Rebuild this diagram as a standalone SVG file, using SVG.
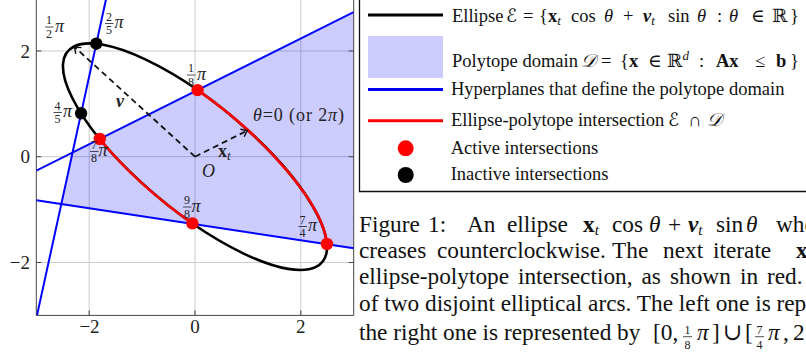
<svg xmlns="http://www.w3.org/2000/svg" width="806" height="358" viewBox="0 0 806 358">
<style>
text{font-family:"Liberation Serif","DejaVu Serif","DejaVu Sans",serif;fill:#111}
.tick{font-size:19px;fill:#222}
.lab{font-size:18px;fill:#222}
.num{font-size:12px;fill:#222;text-anchor:middle}
.leg{font-size:18.5px}
.cap{font-size:23.3px}
.i{font-style:italic}
.b{font-weight:bold}
.bi{font-weight:bold;font-style:italic}
.grid{stroke:#cbcbcb;stroke-width:1;fill:none}
.hp{stroke:#0000ff;stroke-width:2;fill:none}
.ell{fill:none;stroke:#000;stroke-width:2.6}
.red{fill:none;stroke:#ff0000;stroke-width:2.6}
.dash{stroke:#111;stroke-width:1.8;stroke-dasharray:6 4;fill:none}
.fb{stroke:#222;stroke-width:0.8}
</style>
<defs>
<clipPath id="plotclip"><rect x="36.3" y="-2" width="317.4" height="317.4"/></clipPath>
<marker id="arr" markerUnits="userSpaceOnUse" markerWidth="14" markerHeight="14" viewBox="-7 -7 14 14" refX="0" refY="0" orient="auto">
<path d="M-5.5,-4.2 Q-1.6,-1.2 0,0 Q-1.6,1.2 -5.5,4.2" fill="none" stroke="#111" stroke-width="1.4"/>
</marker>
</defs>
<rect width="806" height="358" fill="#fff"/>
<g id="plot">
<g id="grid">
<path class="grid" d="M89.2,-2V315.4M195,-2V315.4M300.8,-2V315.4M36.3,51H353.7M36.3,156.7H353.7M36.3,262.5H353.7"/>
</g>
<g id="polytope" clip-path="url(#plotclip)">
<polygon points="72.5,152.6 353.7,12.1 353.7,248.2 61.27,204.07" fill="#0000ff" fill-opacity="0.2"/>
</g>
<g id="axes">
<path d="M36.3,-2V315.4H353.7V-2" fill="none" stroke="#444" stroke-width="1"/>
<path d="M89.2,315.4v-5M195,315.4v-5M300.8,315.4v-5M36.3,51h5M36.3,156.7h5M36.3,262.5h5M353.7,51h-5M353.7,156.7h-5M353.7,262.5h-5" stroke="#444" stroke-width="1"/>
<text class="tick" x="30" y="57.5" text-anchor="end">2</text>
<text class="tick" x="30" y="163.2" text-anchor="end">0</text>
<text class="tick" x="30" y="269" text-anchor="end">−2</text>
<text class="tick" x="89.5" y="333" text-anchor="middle">−2</text>
<text class="tick" x="195" y="333" text-anchor="middle">0</text>
<text class="tick" x="300.8" y="333" text-anchor="middle">2</text>
</g>
<g id="hyperplanes" clip-path="url(#plotclip)">
<line class="hp" x1="36.3" y1="170.7" x2="353.7" y2="12.1"/>
<line class="hp" x1="36.3" y1="200.3" x2="353.7" y2="248.2"/>
<line class="hp" x1="37.0" y1="315.4" x2="106.3" y2="-2"/>
</g>
<g id="ellipse" transform="matrix(52.9 -26.45 -121 -110.2 195 156.7)">
<circle r="1" class="ell" vector-effect="non-scaling-stroke"/>
<path class="red" vector-effect="non-scaling-stroke" d="M-0.92388,0.382683A1,1 0 0 1 -0.92388,-0.382683"/>
<path class="red" vector-effect="non-scaling-stroke" d="M0.4402,-0.8979A1,1 0 0 1 0.92388,0.382683"/>
</g>
<g id="connectors">
<path class="dash" d="M195,156.7L247.2,130.6" marker-end="url(#arr)"/>
<path class="dash" d="M195,156.7L74.5,47" marker-end="url(#arr)"/>
</g>
<g id="points">
<circle cx="197.6" cy="90.1" r="6.2" fill="#ff0000"/>
<circle cx="99.8" cy="139" r="6.2" fill="#ff0000"/>
<circle cx="192.4" cy="223.4" r="6.2" fill="#ff0000"/>
<circle cx="326.9" cy="244" r="6.2" fill="#ff0000"/>
<circle cx="96.3" cy="43.7" r="6.2" fill="#000"/>
<circle cx="81.1" cy="113.3" r="6.2" fill="#000"/>
</g>
<g id="labels">
<g id="l-half"><text class="num" x="49" y="24">1</text><line class="fb" x1="45" y1="27" x2="53.5" y2="27"/><text class="num" x="49" y="37.5">2</text><text class="lab i" x="55" y="31.5">π</text></g>
<g id="l-25"><text class="num" x="109" y="20.5">2</text><line class="fb" x1="105" y1="23.5" x2="113.5" y2="23.5"/><text class="num" x="109" y="34">5</text><text class="lab i" x="114.5" y="28">π</text></g>
<g id="l-18"><text class="num" x="191" y="72">1</text><line class="fb" x1="187" y1="75" x2="195.5" y2="75"/><text class="num" x="191" y="85.5">8</text><text class="lab i" x="197" y="79.5">π</text></g>
<g id="l-45"><text class="num" x="57.5" y="109.5">4</text><line class="fb" x1="53.5" y1="112.5" x2="62" y2="112.5"/><text class="num" x="57.5" y="123">5</text><text class="lab i" x="63" y="117">π</text></g>
<g id="l-78"><text class="num" x="94" y="148.5">7</text><line class="fb" x1="90" y1="151.5" x2="98.5" y2="151.5"/><text class="num" x="94" y="162">8</text><text class="lab i" x="98.5" y="156">π</text></g>
<g id="l-98"><text class="num" x="187" y="204">9</text><line class="fb" x1="183" y1="207" x2="191.5" y2="207"/><text class="num" x="187" y="217.5">8</text><text class="lab i" x="191.5" y="211.5">π</text></g>
<g id="l-74"><text class="num" x="302.5" y="223.5">7</text><line class="fb" x1="298.5" y1="226.5" x2="307" y2="226.5"/><text class="num" x="302.5" y="237">4</text><text class="lab i" x="308" y="231">π</text></g>
<text class="lab bi" x="116" y="107">ν</text>
<text class="lab" x="218" y="157"><tspan class="b">x</tspan><tspan class="i" font-size="13" dy="3">t</tspan></text>
<text class="lab i" x="202" y="177">O</text>
<text class="lab" x="253" y="120.5" textLength="91" lengthAdjust="spacing"><tspan class="i">θ</tspan>=0 (or 2<tspan class="i">π</tspan>)</text>
</g>
</g>
<g id="legend">
<path d="M359.5,-2V191.5H810" fill="none" stroke="#111" stroke-width="1.3"/>
<g id="leg-ellipse"><line x1="368" y1="15" x2="443" y2="15" stroke="#000" stroke-width="3"/>
<text class="leg" y="21.5"><tspan x="452">Ellipse</tspan><tspan x="506" class="i">ℰ</tspan><tspan x="523">=</tspan><tspan x="539">{</tspan><tspan x="548" class="b">x</tspan><tspan class="i" font-size="13" dy="3">t</tspan><tspan x="571" dy="-3">cos</tspan><tspan x="604" class="i">θ</tspan><tspan x="623">+</tspan><tspan x="643" class="bi">ν</tspan><tspan class="i" font-size="13" dy="3">t</tspan><tspan x="668" dy="-3">sin</tspan><tspan x="697" class="i">θ</tspan><tspan x="717">:</tspan><tspan x="729" class="i">θ</tspan><tspan x="751">∈</tspan><tspan x="772">ℝ</tspan><tspan x="790">}</tspan></text></g>
<g id="leg-domain"><rect x="368" y="36" width="75" height="42" fill="#ccccff"/>
<text class="leg" y="66.5"><tspan x="452">Polytope domain</tspan><tspan x="581" class="i">𝒟</tspan><tspan x="601">=</tspan><tspan x="620">{</tspan><tspan x="629" class="b">x</tspan><tspan x="648">∈</tspan><tspan x="667">ℝ</tspan><tspan class="i" font-size="13" dy="-7">d</tspan><tspan x="699" dy="7">:</tspan><tspan x="716" class="b">Ax</tspan><tspan x="755">≤</tspan><tspan x="776" class="b">b</tspan><tspan x="790">}</tspan></text></g>
<g id="leg-hyper"><line x1="368" y1="89.5" x2="443" y2="89.5" stroke="#0000ff" stroke-width="3"/>
<text class="leg" x="451" y="94.5">Hyperplanes that define the polytope domain</text></g>
<g id="leg-inter"><line x1="368" y1="120.7" x2="443" y2="120.7" stroke="#ff0000" stroke-width="3"/>
<text class="leg" y="126"><tspan x="451">Ellipse-polytope intersection</tspan><tspan x="668" class="i">ℰ</tspan><tspan x="688">∩</tspan><tspan x="707" class="i">𝒟</tspan></text></g>
<g id="leg-active"><circle cx="405.7" cy="148.3" r="8" fill="#ff0000"/>
<text class="leg" x="450.7" y="154.3">Active intersections</text></g>
<g id="leg-inactive"><circle cx="405.7" cy="175" r="8" fill="#000"/>
<text class="leg" x="450.7" y="180.3">Inactive intersections</text></g>
</g>
<g id="caption">
<text class="cap" y="232.3"><tspan x="359">Figure</tspan><tspan x="428">1:</tspan><tspan x="467">An</tspan><tspan x="507">ellipse</tspan><tspan x="583" class="b">x</tspan><tspan class="i" font-size="15" dy="3">t</tspan><tspan x="612" dy="-3">cos</tspan><tspan x="649" class="i">θ</tspan><tspan x="668">+</tspan><tspan x="688" class="bi">ν</tspan><tspan class="i" font-size="15" dy="3">t</tspan><tspan x="716" dy="-3">sin</tspan><tspan x="746" class="i">θ</tspan><tspan x="776">who</tspan></text>
<text class="cap" y="258"><tspan x="359">creases</tspan><tspan x="437">counterclockwise.</tspan><tspan x="612">The</tspan><tspan x="663">next</tspan><tspan x="713">iterate</tspan><tspan x="796" class="b">x</tspan></text>
<text class="cap" y="283.5"><tspan x="359">ellipse-polytope</tspan><tspan x="518">intersection,</tspan><tspan x="641.5">as</tspan><tspan x="670">shown</tspan><tspan x="740">in</tspan><tspan x="767">red.</tspan></text>
<text class="cap" x="359" y="310.5">of two disjoint elliptical arcs. The left one is rep</text>
<text class="cap" y="340"><tspan x="359">the right one is represented by</tspan><tspan x="653">[0,</tspan><tspan x="697" class="i">π</tspan><tspan x="712">]</tspan><tspan x="723">∪</tspan><tspan x="745">[</tspan><tspan x="768" class="i">π</tspan><tspan x="783">,</tspan><tspan x="793">2</tspan></text>
<text class="num" x="687.5" y="334">1</text><line class="fb" x1="683" y1="336.7" x2="692" y2="336.7"/><text class="num" x="687.5" y="349">8</text>
<text class="num" x="759.5" y="334">7</text><line class="fb" x1="755" y1="336.7" x2="764" y2="336.7"/><text class="num" x="759.5" y="349">4</text>
</g>
</svg>
